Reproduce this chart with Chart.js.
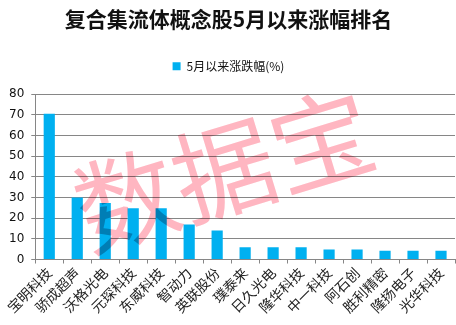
<!DOCTYPE html>
<html>
<head>
    <title>复合集流体概念股5月以来涨幅排名</title>
    <script src="https://cdn.jsdelivr.net/npm/chart.js"></script>
    <style>
        body {
            margin: 0;
            background: #ffffff;
        }

        #wrap {
            position: relative;
            width: 456px;
            height: 325px;
        }
    </style>
</head>
<body>
<div id="wrap">
    <canvas id="chart"></canvas>
</div>

<script>
    // Chart data
    var categories = ['宝明科技', '骄成超声', '沃格光电', '元琛科技', '东威科技', '智动力', '英联股份', '璞泰来',
        '日久光电', '隆华科技', '中一科技', '阿石创', '胜利精密', '隆扬电子', '光华科技'];
    var gains = [70.5, 30, 27.3, 24.8, 24.8, 17, 14, 5.9, 5.9, 5.9, 4.8, 4.8, 4.3, 4.3, 4.3];
    var seriesLabel = '5月以来涨跌幅(%)';
    var yTicks = [0, 10, 20, 30, 40, 50, 60, 70, 80];

    // Extra gap under the legend
    var legendGap = {
        id: 'legendGap',
        beforeLayout: function (chart) {
            var lg = chart.legend;
            if (lg && !lg._gapPatched) {
                var fit = lg.fit;
                lg.fit = function () {
                    fit.call(this);
                    this.height += 12;
                };
                lg._gapPatched = true;
            }
        }
    };

    // Pink watermark, multiplied over the bars
    var watermark = {
        id: 'watermark',
        afterDatasetsDraw: function (chart) {
            var ctx = chart.ctx;
            ctx.save();
            ctx.globalCompositeOperation = 'multiply';
            ctx.translate(224, 170);
            ctx.rotate(-17 * Math.PI / 180);
            ctx.font = '102px "Noto Sans CJK SC"';
            ctx.fillStyle = '#ffb6c1';
            ctx.textAlign = 'center';
            ctx.textBaseline = 'middle';
            ctx.fillText('数据宝', 0, 0);
            ctx.restore();
        }
    };

    var ctx = document.getElementById('chart').getContext('2d');
    new Chart(ctx, {
        type: 'bar',
        data: {
            labels: categories,
            datasets: [{
                label: seriesLabel,
                data: gains,
                backgroundColor: '#00b0f0',
                barPercentage: 0.4,
                categoryPercentage: 1
            }]
        },
        options: {
            responsive: true,
            maintainAspectRatio: false,
            animation: false,
            layout: {
                padding: {left: 2, right: 1, top: 6, bottom: 8}
            },
            plugins: {
                title: {
                    display: true,
                    text: '复合集流体概念股5月以来涨幅排名',
                    color: '#111111',
                    font: {family: '"Noto Sans CJK SC"', size: 21, weight: 'bold'},
                    padding: {top: 0, bottom: 15}
                },
                legend: {
                    display: true,
                    labels: {
                        color: '#111111',
                        font: {family: '"Noto Sans CJK SC"', size: 12},
                        boxWidth: 8,
                        boxHeight: 8,
                        padding: 14
                    }
                },
                tooltip: {enabled: false}
            },
            scales: {
                x: {
                    grid: {
                        display: true,
                        drawOnChartArea: false,
                        drawTicks: true,
                        tickLength: 4,
                        color: '#868686',
                        offset: true
                    },
                    border: {color: '#868686'},
                    ticks: {
                        color: '#222222',
                        font: {family: '"Noto Sans CJK SC"', size: 14},
                        autoSkip: false,
                        minRotation: 45,
                        maxRotation: 45,
                        padding: 1
                    }
                },
                y: {
                    min: 0,
                    max: 80,
                    afterBuildTicks: function (axis) {
                        axis.ticks = yTicks.map(function (v) { return {value: v}; });
                    },
                    grid: {
                        color: '#868686',
                        tickLength: 4
                    },
                    border: {color: '#868686'},
                    ticks: {
                        color: '#111111',
                        font: {family: '"DejaVu Sans"', size: 12},
                        padding: 7
                    }
                }
            }
        },
        plugins: [legendGap, watermark]
    });
</script>
</body>
</html>
